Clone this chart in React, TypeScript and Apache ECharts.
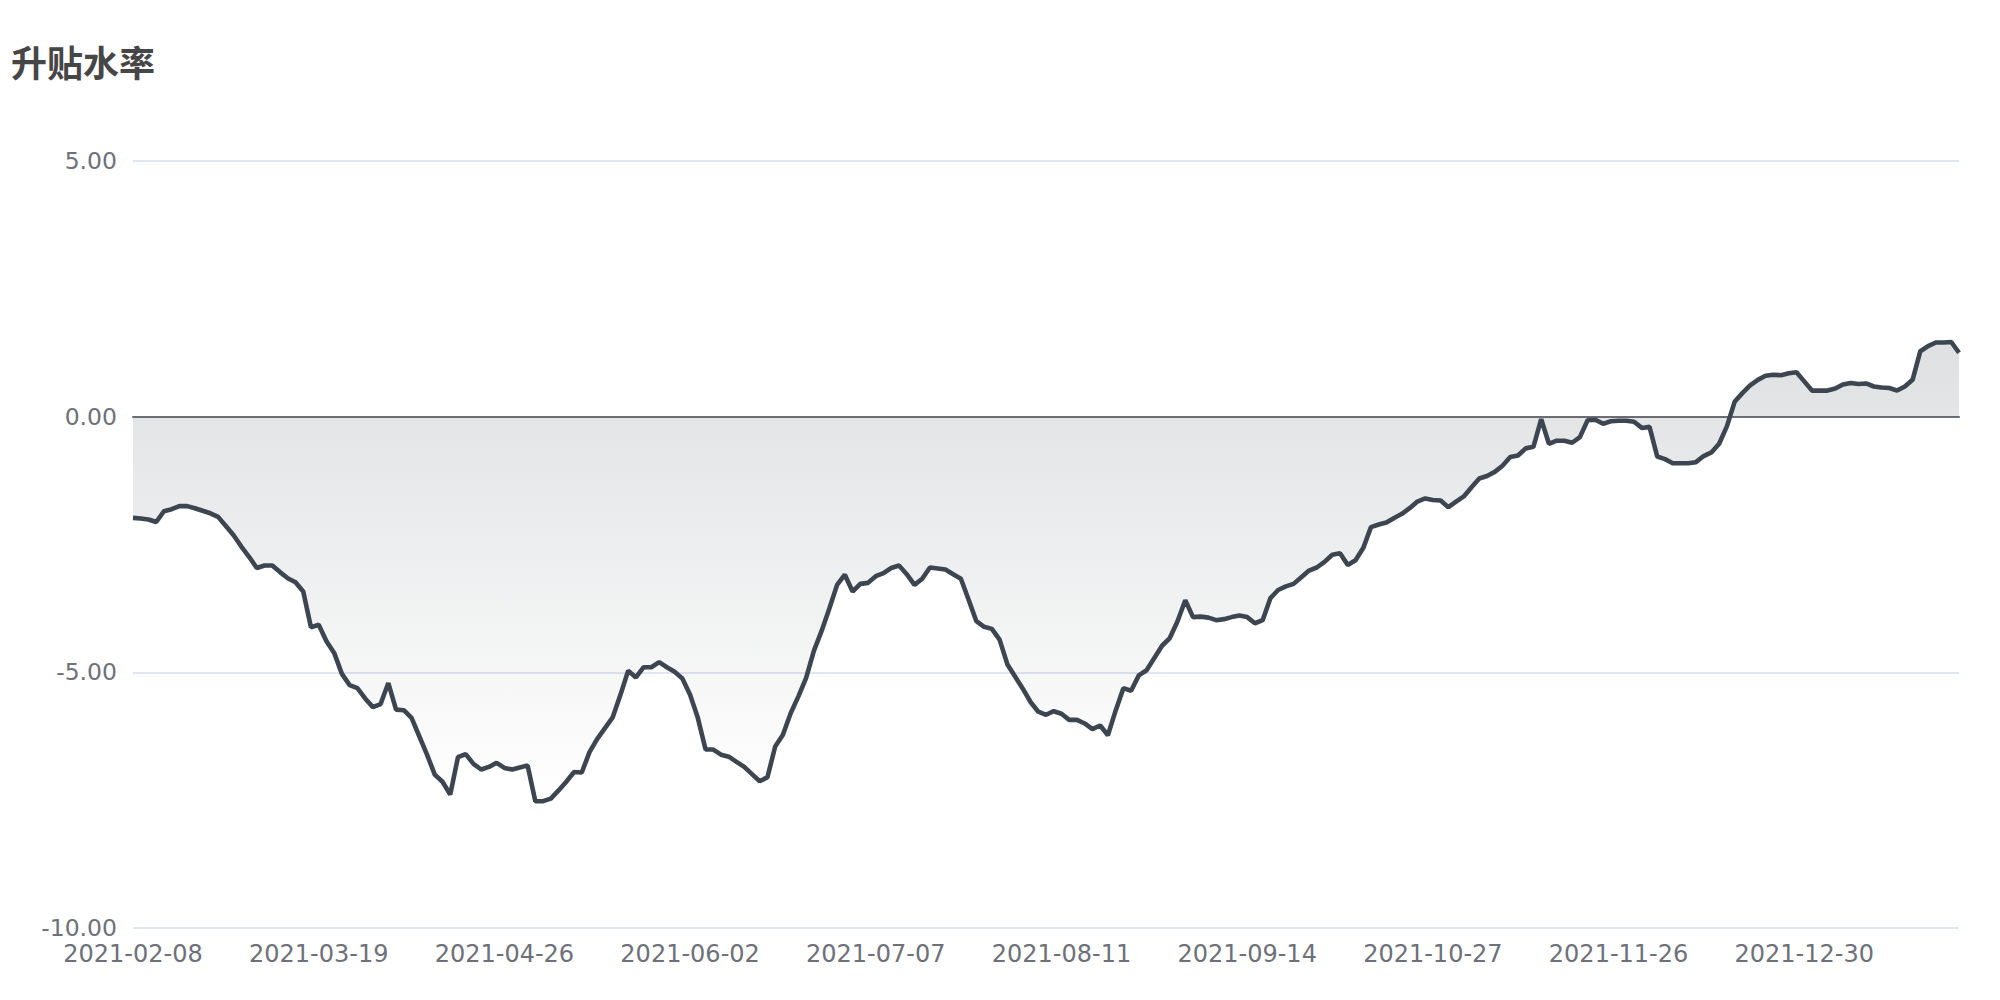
import React, { useEffect, useRef } from "react";
import * as echarts from "echarts";

// ---- data ----
const TITLE = "升贴水率";
const START_DATE = "2021-02-08";
const END_DATE = "2022-01-28";
// weekdays without data
const skippedDays = [
  "2021-02-11", "2021-02-12", "2021-02-15", "2021-02-16", "2021-02-17",
  "2021-04-02", "2021-04-05", "2021-05-03", "2021-05-04", "2021-05-05",
  "2021-06-14", "2021-07-30", "2021-09-20", "2021-09-21",
  "2021-10-01", "2021-10-04", "2021-10-05", "2021-10-06", "2021-10-07",
  "2022-01-03",
];
// weekend days with data
const extraDays = ["2021-10-30", "2021-11-06"];

const basisFebApr = [
  -1.98, -1.99, -2.01, -2.06, -1.85, -1.81, -1.75, -1.75, -1.79, -1.84,
  -1.89, -1.96, -2.14, -2.32, -2.54, -2.74, -2.96, -2.91, -2.91, -3.04,
  -3.16, -3.24, -3.42, -4.12, -4.07, -4.39, -4.62, -5.03, -5.25, -5.31,
  -5.51, -5.68, -5.62, -5.21, -5.73, -5.74, -5.89, -6.25, -6.61, -7.0,
  -7.14, -7.39, -6.66, -6.6, -6.79, -6.9, -6.85, -6.77,
];
const basisAprJun = [
  -6.87, -6.9, -6.86, -6.82, -7.52, -7.52, -7.47, -7.31, -7.14, -6.95,
  -6.96, -6.56, -6.3, -6.09, -5.88, -5.44, -4.97, -5.1, -4.9, -4.9,
  -4.8, -4.9, -4.99, -5.12, -5.44, -5.89, -6.51, -6.51, -6.61, -6.65,
  -6.75, -6.85, -6.99, -7.13, -7.05, -6.45, -6.22, -5.8, -5.47, -5.11,
  -4.58, -4.19, -3.75, -3.29, -3.09, -3.42, -3.27, -3.25,
];
const basisJulSep = [
  -3.12, -3.06, -2.96, -2.91, -3.08, -3.29, -3.17, -2.95, -2.97, -2.99,
  -3.08, -3.17, -3.58, -4.0, -4.11, -4.15, -4.36, -4.84, -5.08, -5.32,
  -5.58, -5.77, -5.83, -5.76, -5.81, -5.93, -5.93, -6.0, -6.11, -6.04,
  -6.23, -5.75, -5.31, -5.36, -5.06, -4.96, -4.72, -4.48, -4.33, -4.0,
  -3.59, -3.92, -3.91, -3.93, -3.98, -3.96, -3.92, -3.89,
];
const basisSepNov = [
  -3.92, -4.04, -3.98, -3.55, -3.39, -3.32, -3.27, -3.14, -3.01, -2.95,
  -2.84, -2.7, -2.67, -2.9, -2.81, -2.57, -2.16, -2.11, -2.07, -1.98,
  -1.9, -1.79, -1.66, -1.6, -1.63, -1.64, -1.77, -1.66, -1.56, -1.38,
  -1.21, -1.16, -1.08, -0.96, -0.79, -0.76, -0.62, -0.59, -0.05, -0.53,
  -0.47, -0.47, -0.51, -0.4, -0.07, -0.06, -0.14, -0.09,
];
const basisNovJan = [
  -0.08, -0.08, -0.1, -0.22, -0.2, -0.78, -0.83, -0.91, -0.91, -0.91,
  -0.89, -0.77, -0.7, -0.53, -0.19, 0.29, 0.46, 0.61, 0.72, 0.8,
  0.82, 0.81, 0.85, 0.87, 0.69, 0.51, 0.51, 0.51, 0.55, 0.63,
  0.66, 0.64, 0.65, 0.59, 0.57, 0.56, 0.51, 0.59, 0.72, 1.28,
  1.38, 1.45, 1.45, 1.46, 1.25,
];

const yMin = -10;
const yMax = 5;
const yStep = 5;

function buildDates(): string[] {
  const out: string[] = [];
  const d = new Date(START_DATE + "T00:00:00Z");
  const end = new Date(END_DATE + "T00:00:00Z");
  while (d.getTime() <= end.getTime()) {
    const s = d.toISOString().slice(0, 10);
    const wd = d.getUTCDay();
    const isWeekday = wd !== 0 && wd !== 6;
    if ((isWeekday && !skippedDays.includes(s)) || extraDays.includes(s)) {
      out.push(s);
    }
    d.setUTCDate(d.getUTCDate() + 1);
  }
  return out;
}

const LABEL_FONT = "'DejaVu Sans', sans-serif";

export default function App() {
  const ref = useRef<HTMLDivElement>(null);

  useEffect(() => {
    if (!ref.current) return;
    const chart = echarts.init(ref.current, undefined, { renderer: "svg" });
    const dates = buildDates();
    const values = [
      ...basisFebApr,
      ...basisAprJun,
      ...basisJulSep,
      ...basisSepNov,
      ...basisNovJan,
    ];
    chart.setOption({
      animation: false,
      backgroundColor: "#ffffff",
      title: {
        text: TITLE,
        left: 11,
        top: 43,
        padding: 0,
        textStyle: {
          fontSize: 36,
          fontWeight: "bold",
          color: "#464646",
          fontFamily: "'Noto Sans CJK SC', sans-serif",
        },
      },
      grid: { left: 133, right: 41, top: 161, bottom: 72, containLabel: false },
      xAxis: {
        type: "category",
        data: dates,
        boundaryGap: false,
        axisLine: { onZero: true, lineStyle: { color: "#6E7079", width: 2 } },
        axisTick: { show: false },
        axisLabel: {
          interval: 23,
          fontSize: 24,
          fontFamily: LABEL_FONT,
          color: "#6E7079",
          margin: 14,
        },
        splitLine: { show: false },
      },
      yAxis: {
        type: "value",
        min: yMin,
        max: yMax,
        interval: yStep,
        axisLine: { show: false },
        axisTick: { show: false },
        axisLabel: {
          fontSize: 23.5,
          fontFamily: LABEL_FONT,
          color: "#6E7079",
          margin: 16,
          formatter: (v: number) => v.toFixed(2),
        },
        splitLine: { lineStyle: { color: "#E0E6F1", width: 2 } },
      },
      series: [
        {
          type: "line",
          data: values,
          showSymbol: false,
          symbol: "none",
          lineStyle: { color: "#3D4650", width: 4.6 },
          itemStyle: { color: "#3D4650" },
          areaStyle: {
            color: new echarts.graphic.LinearGradient(0, 0, 0, 1, [
              { offset: 0, color: "rgba(61,70,80,0.24)" },
              { offset: 1, color: "rgba(61,70,80,0)" },
            ]),
          },
        },
      ],
    });
    return () => chart.dispose();
  }, []);

  return (
    <div
      ref={ref}
      style={{ position: "fixed", left: 0, top: 0, width: 2000, height: 1000 }}
    />
  );
}
